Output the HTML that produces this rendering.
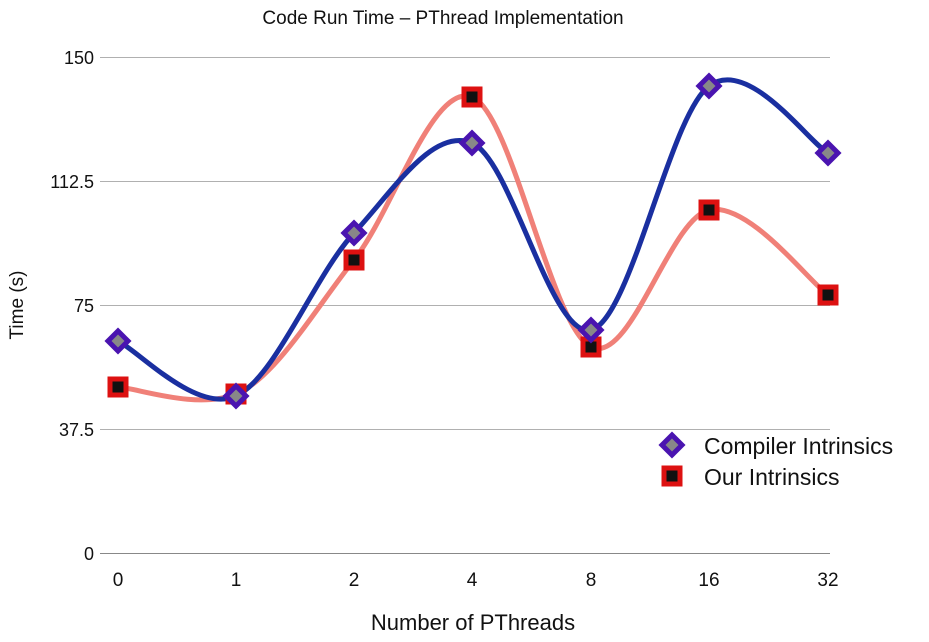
<!DOCTYPE html>
<html><head><meta charset="utf-8"><style>
body{margin:0;background:#fff;}
svg text{font-family:"Liberation Sans",sans-serif;fill:#111;}
</style></head><body>
<svg width="929" height="637" viewBox="0 0 929 637" xmlns="http://www.w3.org/2000/svg">
<rect width="929" height="637" fill="#fff"/>
<g stroke="#b0b0b0" stroke-width="1">
<line x1="100" y1="57.5" x2="830" y2="57.5"/>
<line x1="100" y1="181.5" x2="830" y2="181.5"/>
<line x1="100" y1="305.5" x2="830" y2="305.5"/>
<line x1="100" y1="429.5" x2="830" y2="429.5"/>
<line x1="100" y1="553.5" x2="830" y2="553.5" stroke="#888"/>
</g>
<text x="443" y="24" font-size="19" text-anchor="middle">Code Run Time – PThread Implementation</text>
<g font-size="18" text-anchor="end">
<text x="94" y="64">150</text>
<text x="94" y="188">112.5</text>
<text x="94" y="312">75</text>
<text x="94" y="436">37.5</text>
<text x="94" y="560">0</text>
</g>
<g font-size="19" text-anchor="middle">
<text x="118" y="586">0</text><text x="236" y="586">1</text><text x="354" y="586">2</text><text x="472" y="586">4</text><text x="591" y="586">8</text><text x="709" y="586">16</text><text x="828" y="586">32</text>
</g>
<text x="473" y="630" font-size="22" text-anchor="middle">Number of PThreads</text>
<text transform="translate(23,305) rotate(-90)" font-size="19" text-anchor="middle">Time (s)</text>
<path d="M118,387 C137.7,388.2 196.7,410 236,394 C275.3,378 314.7,309.5 354,260 C393.3,210.5 432.5,82.5 472,97 C511.5,111.5 551.5,328.2 591,347 C630.5,365.8 669.5,218.7 709,210 C748.5,201.3 808.2,280.8 828,295" fill="none" stroke="#f08078" stroke-width="5"/>
<path d="M118,341 C137.7,350.2 196.7,414 236,396 C275.3,378 314.7,275.2 354,233 C393.3,190.8 432.5,126.8 472,143 C511.5,159.2 551.5,339.5 591,330 C630.5,320.5 669.5,115.5 709,86 C748.5,56.5 808.2,141.8 828,153" fill="none" stroke="#1a2fa0" stroke-width="5"/>
<g fill="#111" stroke="#dd1111" stroke-width="5">
<rect x="110" y="379" width="16" height="16"/><rect x="228" y="386" width="16" height="16"/><rect x="346" y="252" width="16" height="16"/><rect x="464" y="89" width="16" height="16"/><rect x="583" y="339" width="16" height="16"/><rect x="701" y="202" width="16" height="16"/><rect x="820" y="287" width="16" height="16"/>
<rect x="664" y="468" width="16" height="16"/>
</g>
<g fill="#888" stroke="#4a14b0" stroke-width="5">
<path d="M118,331 l10,10 l-10,10 l-10,-10z"/><path d="M236,386 l10,10 l-10,10 l-10,-10z"/><path d="M354,223 l10,10 l-10,10 l-10,-10z"/><path d="M472,133 l10,10 l-10,10 l-10,-10z"/><path d="M591,320 l10,10 l-10,10 l-10,-10z"/><path d="M709,76 l10,10 l-10,10 l-10,-10z"/><path d="M828,143 l10,10 l-10,10 l-10,-10z"/>
<path d="M672,435 l10,10 l-10,10 l-10,-10z"/>
</g>
<text x="704" y="454" font-size="23">Compiler Intrinsics</text>
<text x="704" y="485" font-size="23">Our Intrinsics</text>
</svg>
</body></html>
